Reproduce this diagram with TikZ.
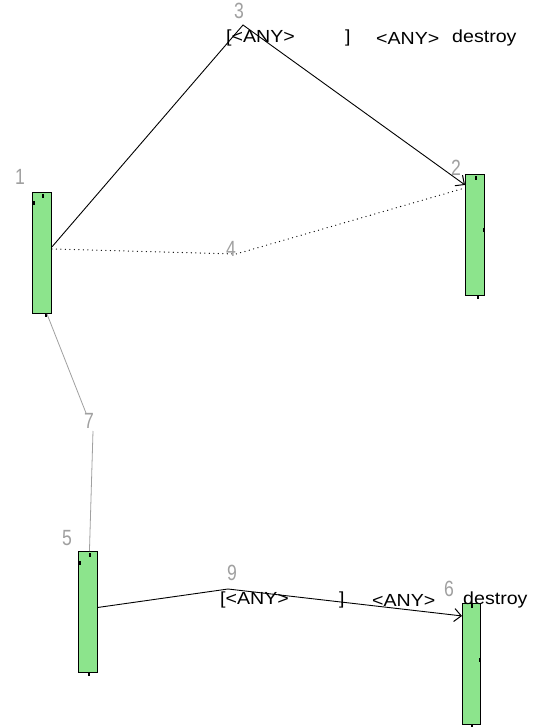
\documentclass[tikz,border=0pt]{standalone}
\usepackage{fontspec}
\setmainfont{Liberation Sans}
\newfontfamily\msgfont[FakeStretch=1.12]{Liberation Sans}
\newfontfamily\numfont[FakeStretch=0.8]{Liberation Sans}
\usetikzlibrary{arrows.meta}
\definecolor{boxgreen}{RGB}{140,228,140}
\definecolor{labelgray}{RGB}{160,160,160}
\begin{document}
\begin{tikzpicture}[x=1pt,y=-1pt,
  lifebox/.style={draw=black, line width=0.9pt, fill=boxgreen, minimum width=19pt, minimum height=121pt, inner sep=0pt, anchor=north west},
  numlabel/.style={text=labelgray, font=\numfont\fontsize{22}{22}\selectfont, inner sep=0pt},
  msgtext/.style={font=\msgfont\fontsize{17.5}{17.5}\selectfont, inner sep=0pt, anchor=west},
  port/.style={fill=black, draw=none, inner sep=0pt, minimum width=2.5pt, minimum height=3.5pt},
  msgline/.style={black, line width=0.9pt},
  dotline/.style={black, line width=1.3pt, line cap=round, dash pattern=on 0pt off 4.5pt},
  grayline/.style={labelgray, line width=0.8pt},
  arr/.style={-{Straight Barb[length=7pt,width=13pt,line width=1pt]}}
]
\useasboundingbox (0,0) rectangle (537,727);
\fill[white] (0,0) rectangle (537,727);

% lifeline boxes
\node[lifebox] (b1) at (32,192) {};
\node[lifebox] (b2) at (465,174) {};
\node[lifebox] (b5) at (78,551) {};
\node[lifebox, minimum width=18pt] (b6) at (462,603) {};

% small port marks
\node[port] (p1a) at (43,196) {};
\node[port] (p1b) at (34,203) {};
\node[port] (p1c) at (46,315) {};
\node[port] (p2a) at (476,178) {};
\node[port] (p2b) at (484,230) {};
\node[port] (p2c) at (478,297) {};
\node[port] (p5a) at (90,555) {};
\node[port] (p5b) at (80,563) {};
\node[port] (p5c) at (89,674) {};
\node[port] (p6a) at (472,606) {};
\node[port] (p6b) at (480,660) {};
\node[port] (p6c) at (472,726) {};

% bend points
\coordinate (c3) at (243,25);
\coordinate (c4) at (236,254);
\coordinate (c7a) at (86,413);
\coordinate (c7b) at (93,431);
\coordinate (c9) at (228,589);

% connectors
\draw[msgline, arr] ([yshift=6pt]b1.east) -- (c3) -- ([yshift=50pt]b2.west);
\draw[dotline] ([yshift=4pt]b1.east) -- (c4) -- ([yshift=47pt]b2.west);
\draw[grayline] ([xshift=5pt]b1.south) -- (c7a);
\draw[grayline] (c7b) -- ([xshift=1.5pt]b5.north);
\draw[msgline, arr] ([yshift=4.5pt]b5.east) -- (c9) -- ([yshift=48pt]b6.west);

% number labels
\node[numlabel] (l1) at (20,177) {1};
\node[numlabel] (l2) at (456,168) {2};
\node[numlabel] (l3) at (239,11) {3};
\node[numlabel] (l4) at (231,249) {4};
\node[numlabel] (l5) at (67,538) {5};
\node[numlabel] (l6) at (449,589) {6};
\node[numlabel] (l7) at (89,421) {7};
\node[numlabel] (l9) at (232,573) {9};

% message texts
\node[msgtext] (t1a) at (226,38) {[<ANY>};
\node[msgtext] (t1b) at (345,38) {]};
\node[msgtext] (t1c) at (376,38) {<ANY>};
\node[msgtext] (t1d) at (452,38) {destroy};
\node[msgtext] (t2a) at (220,600) {[<ANY>};
\node[msgtext] (t2b) at (339,600) {]};
\node[msgtext] (t2c) at (372,600) {<ANY>};
\node[msgtext] (t2d) at (463,600) {destroy};
\end{tikzpicture}
\end{document}
